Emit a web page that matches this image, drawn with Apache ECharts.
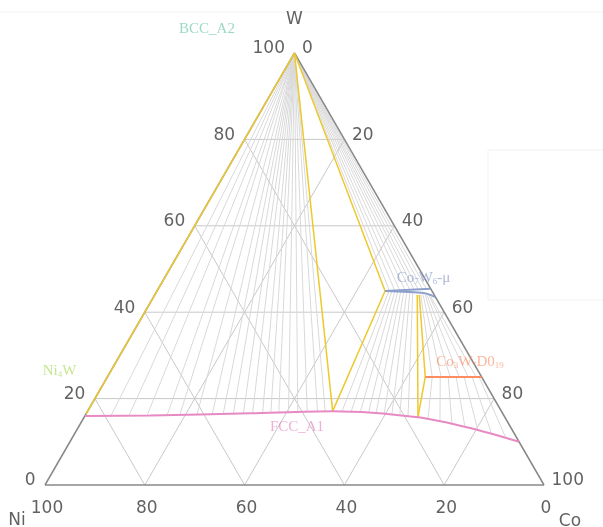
<!DOCTYPE html>
<html><head><meta charset="utf-8">
<script src="https://cdn.jsdelivr.net/npm/echarts/dist/echarts.min.js"></script>
<style>html,body{margin:0;padding:0;background:#fff}#c{width:603px;height:527px}</style>
</head><body><div id="c"></div>
<script>
// ---- data (compositions in at.% : [W, Co]) ----
const ticks = [0, 20, 40, 60, 80, 100];

// FCC_A1 phase boundary
const fccW  = [16.0, 16.1, 16.6, 17.1, 15.7, 13.2, 10.0];
const fccCo = [0.0, 13.0, 32.8, 49.1, 66.9, 78.6, 90.0];

// yellow three-phase boundaries
const yelLeftEdge = [[100, 0], [16.4, 0]];
const yelBccFcc   = [[100, 0], [17.1, 49.1]];
const yelBccMuFcc = [[100, 0], [44.9, 45.7], [17.1, 49.1]];
const yelMuFcc    = [[44.0, 52.6], [15.7, 66.9]];
const yelMuCo3w   = [[44.0, 53.0], [25.0, 63.7], [15.7, 66.9]];

// Co7W6-mu phase (upper and lower boundary)
const muUpper = [[44.9, 45.7], [45.4, 54.6]];
const muLower = [[44.9, 45.7], [44.4, 53.9], [43.5, 56.5]];
// Co3W-D019 phase
const co3w = [[25.0, 63.7], [25.0, 75.0]];

// tie lines BCC(W corner) -> FCC
const fanFccW  = [16.0,16.0,16.1,16.1,16.2,16.3,16.4,16.4,16.5,16.5,16.6,16.6,16.7,16.7,16.8,16.9,16.9,17.0,17.1];
const fanFccCo = [5.2,8.8,12.4,16.4,18.9,22.3,25.3,27.5,29.5,31.5,33.3,35.3,36.9,38.5,40.4,42.2,44.1,46.1,47.6];
// tie lines BCC(W corner) -> mu
const fanMuW  = [44.9,45.0,45.0,45.1,45.1,45.2,45.2,45.3,45.3];
const fanMuCo = [46.6,47.6,48.6,49.6,50.6,51.4,52.2,53.0,53.8];
// tie lines mu -> FCC  [W1, Co1, W2, Co2]
const muFccTies = [
  [44.8,46.5,17.0,51.0],[44.8,47.1,16.8,52.9],[44.8,47.7,16.7,54.8],
  [44.8,48.3,16.6,56.5],[44.8,48.9,16.4,58.1],[44.8,49.5,16.3,59.8],
  [44.8,50.1,16.2,61.4],[44.8,50.7,16.0,63.1],[44.8,51.3,15.9,64.8]];
// tie lines mu -> Co3W
const muCo3wTies = [
  [44.2,53.2,25,65.1],[44.1,53.7,25,66.9],[44.0,54.2,25,68.7],
  [43.9,54.6,25,70.5],[43.8,55.1,25,72.3],[43.6,55.5,25,73.9]];
// tie lines Co3W -> FCC
const co3wFccTies = [
  [25,65.1,15.3,69.1],[25,66.7,14.7,71.8],[25,68.3,14.1,74.5],
  [25,69.9,13.5,77.4],[25,71.5,12.7,80.4],[25,73.1,11.7,83.7],[25,74.5,10.8,87.0]];

// ---- helpers ----
const S3 = Math.sqrt(3) / 2;
function cart(w, co) { return [co + w / 2, w * S3]; }

function segSeries(segs, color, width, z) {
  return {
    type: 'custom', silent: true, z: z, clip: false, animation: false,
    data: segs.map(s => cart(s[0], s[1]).concat(cart(s[2], s[3]))),
    encode: { x: [0, 2], y: [1, 3] },
    renderItem: function (params, api) {
      const a = api.coord([api.value(0), api.value(1)]);
      const b = api.coord([api.value(2), api.value(3)]);
      return { type: 'line', shape: { x1: a[0], y1: a[1], x2: b[0], y2: b[1] },
               style: { stroke: color, lineWidth: width, fill: null } };
    }
  };
}
function poly(pts, color, width, z, smooth) {
  return { type: 'line', data: pts.map(p => cart(p[0], p[1])), showSymbol: false, symbol: 'none',
           lineStyle: { color: color, width: width }, smooth: smooth || false, silent: true,
           animation: false, z: z, clip: false };
}

// grid lines
const gridSegs = [];
ticks.slice(1, -1).forEach(t => {
  gridSegs.push([t, 0, t, 100 - t]);          // constant W
  gridSegs.push([0, t, 100 - t, t]);          // constant Co
  gridSegs.push([0, 100 - t, 100 - t, 0]);    // constant Ni
});
const edgeSegs = [[0, 0, 0, 100], [0, 0, 100, 0], [100, 0, 0, 100]];

const tieSegs = [];
fanFccCo.forEach((c, i) => tieSegs.push([100, 0, fanFccW[i], c]));
fanMuCo.forEach((c, i) => tieSegs.push([100, 0, fanMuW[i], c]));
muFccTies.concat(muCo3wTies, co3wFccTies).forEach(s => tieSegs.push(s));

const fccPts = fccW.map((w, i) => [w, fccCo[i]]);

const tickFont = { fontFamily: 'DejaVu Sans', fontSize: 17, color: '#3a3a3a' };
function tickSeries(pts, names, pos, dist, offset) {
  return { type: 'scatter', silent: true, z: 10, clip: false, animation: false, symbolSize: 1,
    itemStyle: { color: 'rgba(0,0,0,0)' },
    data: pts.map((p, i) => ({ value: p, name: names[i] })),
    label: Object.assign({ show: true, position: pos, distance: dist, offset: offset, formatter: '{b}' }, tickFont) };
}

const serif = 'Liberation Serif';
function phaseLabel(pos, text, color) {
  return { value: pos, label: { show: true, position: 'inside', formatter: text,
    fontFamily: serif, fontSize: 15, color: color,
    rich: { s: { fontFamily: serif, fontSize: 9, color: color, padding: [7, 0, 0, 0] } } } };
}

const option = {
  animation: false,
  grid: { left: 45, right: 59, top: 53, bottom: 42 },
  xAxis: { type: 'value', min: 0, max: 100, show: false },
  yAxis: { type: 'value', min: 0, max: 86.6025, show: false },
  graphic: [
    { type: 'line', shape: { x1: 0, y1: 12, x2: 603, y2: 12 }, style: { stroke: '#f3f3f3', lineWidth: 1 }, z: -1 },
    { type: 'rect', shape: { x: 488, y: 150, width: 130, height: 150 }, style: { fill: 'none', stroke: '#f2f2f2', lineWidth: 1 }, z: -1 }
  ],
  series: [
    segSeries(gridSegs, '#c8c8c8', 1, 1),
    segSeries(tieSegs, '#d9d9d9', 1, 2),
    segSeries(edgeSegs, '#888888', 1.5, 3),
    poly(yelLeftEdge, '#edc82e', 1.5, 4),
    poly(yelBccFcc, '#edc82e', 1.5, 4),
    poly(yelBccMuFcc, '#edc82e', 1.5, 4),
    poly(yelMuFcc, '#edc82e', 1.5, 4),
    poly(yelMuCo3w, '#edc82e', 1.5, 4),
    poly(fccPts, '#e78ac3', 2, 5, 0.3),
    poly(muUpper, '#8da0cb', 2, 5),
    poly(muLower, '#8da0cb', 2, 5, 0.3),
    poly(co3w, '#fc8d62', 2, 5),
    // axis tick labels
    tickSeries(ticks.map(t => cart(t, 0)), ticks.map(String), 'left', 9, [0, -4]),
    tickSeries(ticks.map(t => cart(100 - t, t)), ticks.map(String), 'right', 7, [0, -4]),
    tickSeries(ticks.map(t => cart(0, 100 - t)), ticks.map(String), 'bottom', 15, [2, 0]),
    // vertex labels
    { type: 'scatter', silent: true, z: 10, clip: false, symbolSize: 1, itemStyle: { color: 'rgba(0,0,0,0)' },
      data: [
        { value: cart(100, 0), label: { show: true, position: 'inside', offset: [0, -33], formatter: 'W' } },
        { value: cart(0, 0), label: { show: true, position: 'inside', offset: [-28, 36], formatter: 'Ni' } },
        { value: cart(0, 100), label: { show: true, position: 'inside', offset: [26, 37], formatter: 'Co' } }
      ],
      label: Object.assign({ show: true }, tickFont) },
    // phase labels
    { type: 'scatter', silent: true, z: 11, clip: false, symbolSize: 1, itemStyle: { color: 'rgba(0,0,0,0)' },
      data: [
        phaseLabel([32.46, 91.5], 'BCC_A2', 'rgba(102,194,165,0.8)'),
        phaseLabel([2.9, 22.8], 'Ni{s|4}W', 'rgba(166,216,84,0.8)'),
        phaseLabel([75.85, 41.5], 'Co{s|7}W{s|6}-μ', 'rgba(141,160,203,0.9)'),
        phaseLabel([85.17, 24.7], 'Co{s|3}W-D0{s|19}', 'rgba(252,141,98,0.8)'),
        phaseLabel([50.5, 11.53], 'FCC_A1', 'rgba(231,138,195,0.85)')
      ] }
  ]
};
const chart = echarts.init(document.getElementById('c'), null, { renderer: 'canvas' });
chart.setOption(option);
</script>
</body></html>
